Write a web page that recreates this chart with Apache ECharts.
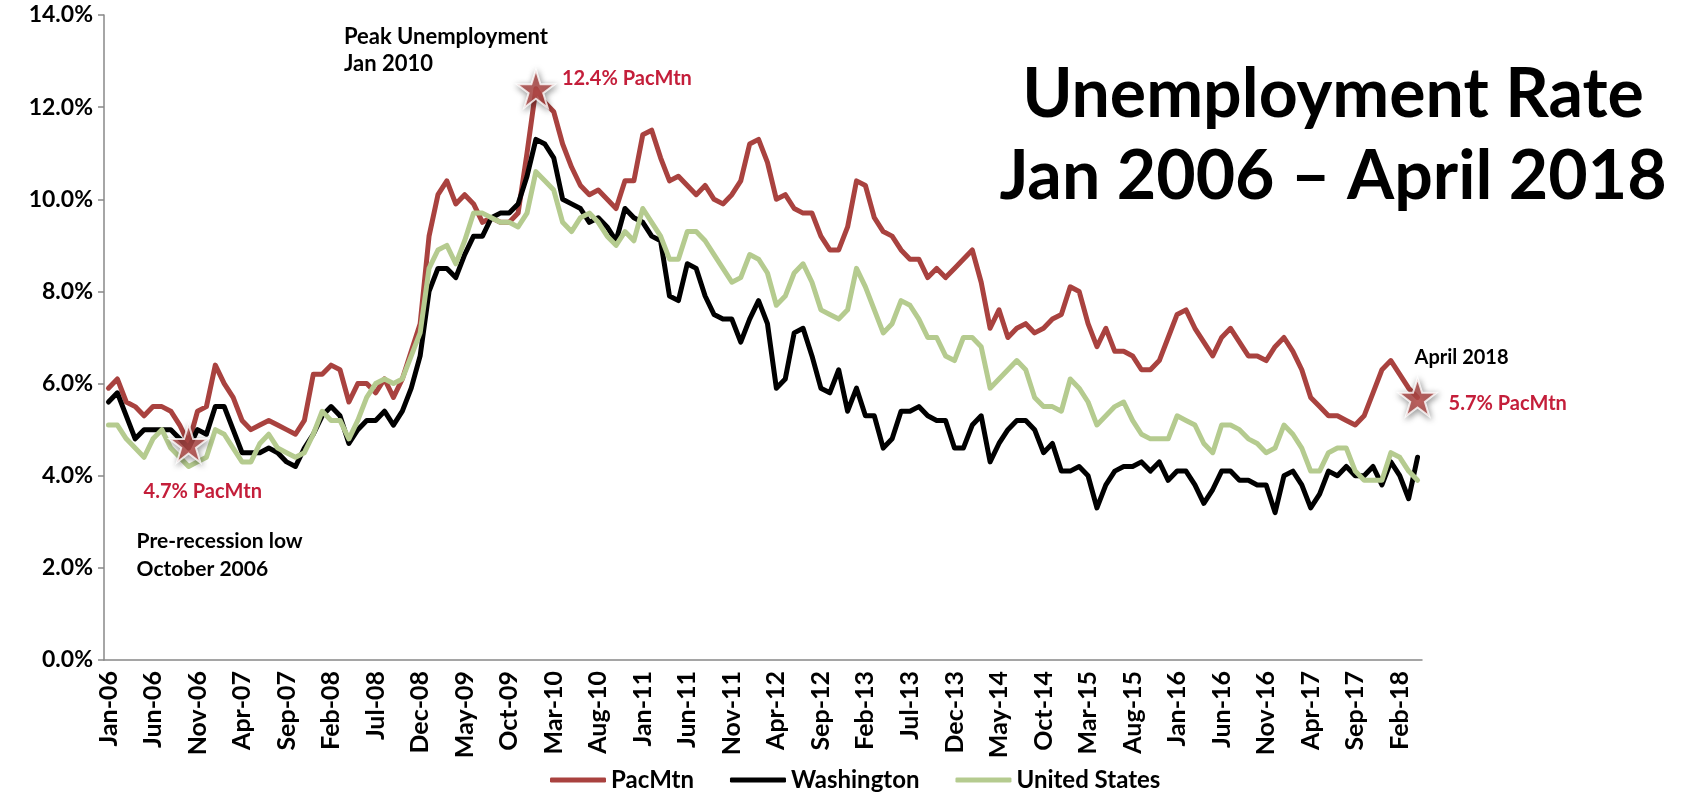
<!DOCTYPE html>
<html><head><meta charset="utf-8">
<script src="https://cdn.jsdelivr.net/npm/echarts@6/dist/echarts.min.js"></script>
<style>html,body{margin:0;padding:0;background:#fff}#c{width:1684px;height:793px}</style>
</head><body><div id="c"></div>
<script>
const months = [
'Jan-06','Feb-06','Mar-06','Apr-06','May-06','Jun-06','Jul-06','Aug-06','Sep-06','Oct-06','Nov-06','Dec-06',
'Jan-07','Feb-07','Mar-07','Apr-07','May-07','Jun-07','Jul-07','Aug-07','Sep-07','Oct-07','Nov-07','Dec-07',
'Jan-08','Feb-08','Mar-08','Apr-08','May-08','Jun-08','Jul-08','Aug-08','Sep-08','Oct-08','Nov-08','Dec-08',
'Jan-09','Feb-09','Mar-09','Apr-09','May-09','Jun-09','Jul-09','Aug-09','Sep-09','Oct-09','Nov-09','Dec-09',
'Jan-10','Feb-10','Mar-10','Apr-10','May-10','Jun-10','Jul-10','Aug-10','Sep-10','Oct-10','Nov-10','Dec-10',
'Jan-11','Feb-11','Mar-11','Apr-11','May-11','Jun-11','Jul-11','Aug-11','Sep-11','Oct-11','Nov-11','Dec-11',
'Jan-12','Feb-12','Mar-12','Apr-12','May-12','Jun-12','Jul-12','Aug-12','Sep-12','Oct-12','Nov-12','Dec-12',
'Jan-13','Feb-13','Mar-13','Apr-13','May-13','Jun-13','Jul-13','Aug-13','Sep-13','Oct-13','Nov-13','Dec-13',
'Jan-14','Feb-14','Mar-14','Apr-14','May-14','Jun-14','Jul-14','Aug-14','Sep-14','Oct-14','Nov-14','Dec-14',
'Jan-15','Feb-15','Mar-15','Apr-15','May-15','Jun-15','Jul-15','Aug-15','Sep-15','Oct-15','Nov-15','Dec-15',
'Jan-16','Feb-16','Mar-16','Apr-16','May-16','Jun-16','Jul-16','Aug-16','Sep-16','Oct-16','Nov-16','Dec-16',
'Jan-17','Feb-17','Mar-17','Apr-17','May-17','Jun-17','Jul-17','Aug-17','Sep-17','Oct-17','Nov-17','Dec-17',
'Jan-18','Feb-18','Mar-18','Apr-18'];

const pacMtn = [
5.9,6.1,5.6,5.5,5.3,5.5,5.5,5.4,5.1,4.7,5.4,5.5,
6.4,6.0,5.7,5.2,5.0,5.1,5.2,5.1,5.0,4.9,5.2,6.2,
6.2,6.4,6.3,5.6,6.0,6.0,5.8,6.1,5.7,6.1,6.7,7.3,
9.2,10.1,10.4,9.9,10.1,9.9,9.5,9.6,9.5,9.5,9.7,11.0,
12.4,12.1,11.9,11.2,10.7,10.3,10.1,10.2,10.0,9.8,10.4,10.4,
11.4,11.5,10.9,10.4,10.5,10.3,10.1,10.3,10.0,9.9,10.1,10.4,
11.2,11.3,10.8,10.0,10.1,9.8,9.7,9.7,9.2,8.9,8.9,9.4,
10.4,10.3,9.6,9.3,9.2,8.9,8.7,8.7,8.3,8.5,8.3,8.5,
8.7,8.9,8.2,7.2,7.6,7.0,7.2,7.3,7.1,7.2,7.4,7.5,
8.1,8.0,7.3,6.8,7.2,6.7,6.7,6.6,6.3,6.3,6.5,7.0,
7.5,7.6,7.2,6.9,6.6,7.0,7.2,6.9,6.6,6.6,6.5,6.8,
7.0,6.7,6.3,5.7,5.5,5.3,5.3,5.2,5.1,5.3,5.8,6.3,
6.5,6.2,5.9,5.7];

const washington = [
5.6,5.8,5.3,4.8,5.0,5.0,5.0,5.0,4.8,4.6,5.0,4.9,
5.5,5.5,5.0,4.5,4.5,4.5,4.6,4.5,4.3,4.2,4.6,4.9,
5.3,5.5,5.3,4.7,5.0,5.2,5.2,5.4,5.1,5.4,5.9,6.6,
8.0,8.5,8.5,8.3,8.8,9.2,9.2,9.6,9.7,9.7,9.9,10.5,
11.3,11.2,10.9,10.0,9.9,9.8,9.5,9.6,9.4,9.1,9.8,9.6,
9.5,9.2,9.1,7.9,7.8,8.6,8.5,7.9,7.5,7.4,7.4,6.9,
7.4,7.8,7.3,5.9,6.1,7.1,7.2,6.6,5.9,5.8,6.3,5.4,
5.9,5.3,5.3,4.6,4.8,5.4,5.4,5.5,5.3,5.2,5.2,4.6,
4.6,5.1,5.3,4.3,4.7,5.0,5.2,5.2,5.0,4.5,4.7,4.1,
4.1,4.2,4.0,3.3,3.8,4.1,4.2,4.2,4.3,4.1,4.3,3.9,
4.1,4.1,3.8,3.4,3.7,4.1,4.1,3.9,3.9,3.8,3.8,3.2,
4.0,4.1,3.8,3.3,3.6,4.1,4.0,4.2,4.0,4.0,4.2,3.8,
4.3,4.0,3.5,4.4];

const unitedStates = [
5.1,5.1,4.8,4.6,4.4,4.8,5.0,4.6,4.4,4.2,4.3,4.4,
5.0,4.9,4.6,4.3,4.3,4.7,4.9,4.6,4.5,4.4,4.5,4.9,
5.4,5.2,5.2,4.8,5.2,5.7,6.0,6.1,6.0,6.1,6.6,7.1,
8.5,8.9,9.0,8.6,9.1,9.7,9.7,9.6,9.5,9.5,9.4,9.7,
10.6,10.4,10.2,9.5,9.3,9.6,9.7,9.5,9.2,9.0,9.3,9.1,
9.8,9.5,9.2,8.7,8.7,9.3,9.3,9.1,8.8,8.5,8.2,8.3,
8.8,8.7,8.4,7.7,7.9,8.4,8.6,8.2,7.6,7.5,7.4,7.6,
8.5,8.1,7.6,7.1,7.3,7.8,7.7,7.4,7.0,7.0,6.6,6.5,
7.0,7.0,6.8,5.9,6.1,6.3,6.5,6.3,5.7,5.5,5.5,5.4,
6.1,5.9,5.6,5.1,5.3,5.5,5.6,5.2,4.9,4.8,4.8,4.8,
5.3,5.2,5.1,4.7,4.5,5.1,5.1,5.0,4.8,4.7,4.5,4.6,
5.1,4.9,4.6,4.1,4.1,4.5,4.6,4.6,4.1,3.9,3.9,3.9,
4.5,4.4,4.1,3.9];

const yTicks = { min: 0, max: 14, step: 2 };
const seriesNames = ['PacMtn', 'Washington', 'United States'];
const seriesColors = ['#A9423F', '#000000', '#B5CB8F'];
const highlightIdx = [9, 48, 147];
const titleLines = ['Unemployment Rate', 'Jan 2006 \u2013 April 2018'];

const FONT = 'Lato, "Open Sans", sans-serif';
const RED_TXT = '#C41E3A';
const starPath = 'path://M50,0L61.8,35.1L98.9,35.1L68.9,56.9L80.3,92.1L50,70.4L19.7,92.1L31.1,56.9L1.1,35.1L38.2,35.1Z';
const AXIS_GRAY = '#888888';

const chart = echarts.init(document.getElementById('c'));
const lineSeries = [pacMtn, washington, unitedStates].map((d, k) => ({
  name: seriesNames[k], type: 'line', data: d, symbol: 'none', smooth: false,
  lineStyle: { color: seriesColors[k], width: 5, cap: 'round', join: 'round' },
  itemStyle: { color: seriesColors[k] }, z: 2 + k
}));
lineSeries.push({
  name: 'stars', type: 'scatter', z: 10,
  data: highlightIdx.map(i => [i, pacMtn[i]]),
  symbol: starPath, symbolSize: 38,
  itemStyle: { color: '#C0504D', borderColor: '#ffffff', borderWidth: 2,
    shadowBlur: 6, shadowColor: 'rgba(0,0,0,0.45)', shadowOffsetX: 1, shadowOffsetY: 2 }
});

chart.setOption({
  animation: false,
  backgroundColor: '#ffffff',
  textStyle: { fontFamily: FONT },
  grid: { left: 104, right: 262, top: 15, bottom: 133, containLabel: false },
  legend: {
    data: seriesNames, left: 545, top: 763, itemWidth: 56, itemHeight: 5, itemGap: 36,
    icon: 'roundRect',
    textStyle: { fontFamily: FONT, fontWeight: 'bold', fontSize: 24, color: '#000' }
  },
  xAxis: {
    type: 'category', data: months, boundaryGap: true,
    axisLine: { lineStyle: { color: AXIS_GRAY, width: 1.5 } },
    axisTick: { interval: 4, length: 6, lineStyle: { color: AXIS_GRAY, width: 1.5 } },
    axisLabel: { interval: 4, rotate: 90, margin: 11, fontFamily: FONT, fontWeight: 'bold', fontSize: 25, color: '#000' },
    splitLine: { show: false }
  },
  yAxis: {
    type: 'value', min: yTicks.min, max: yTicks.max, interval: yTicks.step,
    axisLine: { show: true, lineStyle: { color: AXIS_GRAY, width: 1.5 } },
    axisTick: { show: true, length: 6, lineStyle: { color: AXIS_GRAY, width: 1.5 } },
    axisLabel: { margin: 11, fontFamily: FONT, fontWeight: 'bold', fontSize: 23, color: '#000',
      formatter: v => v.toFixed(1) + '%' },
    splitLine: { show: false }
  },
  series: lineSeries
});

function px(i) { return chart.convertToPixel({ gridIndex: 0 }, [i, pacMtn[i]]); }
const pLow = px(highlightIdx[0]), pPeak = px(highlightIdx[1]), pEnd = px(highlightIdx[2]);
const bold = (size, color) => ({ fontFamily: FONT, fontWeight: 'bold', fontSize: size, fill: color });

chart.setOption({
  graphic: [
    { type: 'text', x: 1333, y: 95, style: Object.assign(bold(68, '#000'), { text: titleLines[0], textAlign: 'center', textVerticalAlign: 'middle' }) },
    { type: 'text', x: 1333, y: 177, style: Object.assign(bold(68, '#000'), { text: titleLines[1], textAlign: 'center', textVerticalAlign: 'middle' }) },
    { type: 'text', x: pPeak[0] - 192, y: pPeak[1] - 65, style: Object.assign(bold(22, '#000'), { text: 'Peak Unemployment\nJan 2010', lineHeight: 27, textAlign: 'left', textVerticalAlign: 'top' }) },
    { type: 'text', x: pPeak[0] + 26, y: pPeak[1] - 10, style: Object.assign(bold(20, RED_TXT), { text: pacMtn[highlightIdx[1]].toFixed(1) + '% PacMtn', textAlign: 'left', textVerticalAlign: 'middle' }) },
    { type: 'text', x: pLow[0] - 45, y: pLow[1] + 48, style: Object.assign(bold(20, RED_TXT), { text: pacMtn[highlightIdx[0]].toFixed(1) + '% PacMtn', textAlign: 'left', textVerticalAlign: 'middle' }) },
    { type: 'text', x: pLow[0] - 52, y: pLow[1] + 84, style: Object.assign(bold(21, '#000'), { text: 'Pre-recession low\nOctober 2006', lineHeight: 28, textAlign: 'left', textVerticalAlign: 'top' }) },
    { type: 'text', x: pEnd[0] - 3, y: pEnd[1] - 40, style: Object.assign(bold(20, '#000'), { text: 'April 2018', textAlign: 'left', textVerticalAlign: 'middle' }) },
    { type: 'text', x: pEnd[0] + 31, y: pEnd[1] + 6, style: Object.assign(bold(20, RED_TXT), { text: pacMtn[highlightIdx[2]].toFixed(1) + '% PacMtn', textAlign: 'left', textVerticalAlign: 'middle' }) }
  ]
});
</script></body></html>
